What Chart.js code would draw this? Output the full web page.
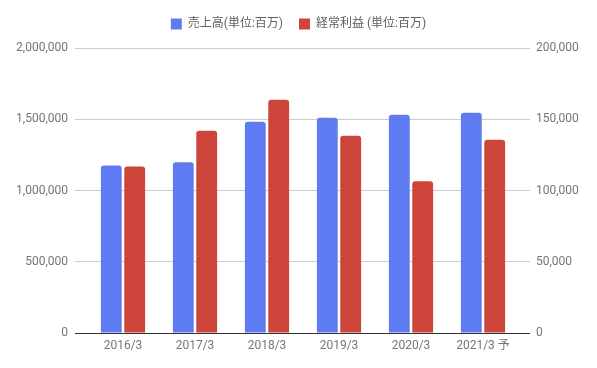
<!doctype html>
<html>
  <head>
    <meta charset="UTF-8">
    <title>売上高・経常利益</title>
    <script src="https://cdn.jsdelivr.net/npm/chart.js@4/dist/chart.umd.min.js"></script>
    <style>
      body {
        margin: 0;
        background: #fff;
      }
      #wrap {
        width: 597px;
        height: 368px;
      }
    </style>
  </head>
  <body>
    <div id="wrap">
      <canvas id="barChart"></canvas>
    </div>
    <script>
      var years = ['2016/3', '2017/3', '2018/3', '2019/3', '2020/3', '2021/3 予']
      var sales = [1175000, 1198000, 1482000, 1510000, 1531000, 1545000]
      var ordinaryProfit = [116800, 142000, 163600, 138500, 106500, 135700]
      var salesLabel = '売上高(単位:百万)'
      var profitLabel = '経常利益 (単位:百万)'

      var fontFamily = 'Roboto, "Noto Sans CJK JP", sans-serif'
      Chart.defaults.font.family = fontFamily
      Chart.defaults.font.size = 12
      Chart.defaults.color = '#757575'

      function gridColor(ctx) {
        if (ctx.tick && ctx.tick.value === 0) {
          return '#333333'
        }
        return '#cccccc'
      }

      function fmt(v) {
        return v.toLocaleString('en-US')
      }

      // push the plot down a little under the legend
      var legendGap = {
        id: 'legendGap',
        beforeInit: function(chart) {
          var origFit = chart.legend.fit
          chart.legend.fit = function() {
            origFit.bind(chart.legend)()
            this.height += 8
          }
        }
      }

      var ctx = document.getElementById('barChart').getContext('2d')
      var myBarChart = new Chart(ctx, {
        type: 'bar',
        data: {
          labels: years,
          datasets: [
            {
              label: salesLabel,
              data: sales,
              backgroundColor: '#5f7bf1',
              borderRadius: {topLeft: 3, topRight: 3},
              borderSkipped: 'start',
              yAxisID: 'y'
            },
            {
              label: profitLabel,
              data: ordinaryProfit,
              backgroundColor: '#cd443a',
              borderRadius: {topLeft: 3, topRight: 3},
              borderSkipped: 'start',
              yAxisID: 'y1'
            }
          ]
        },
        options: {
          responsive: true,
          maintainAspectRatio: false,
          animation: false,
          categoryPercentage: 0.65,
          barPercentage: 0.89,
          layout: {
            padding: {top: 2, left: 0, right: 0, bottom: 0}
          },
          plugins: {
            legend: {
              position: 'top',
              labels: {
                boxWidth: 11,
                boxHeight: 11,
                padding: 16,
                color: '#5f5f5f',
                font: {size: 12, family: fontFamily}
              }
            },
            tooltip: {enabled: false}
          },
          scales: {
            x: {
              grid: {display: false, drawTicks: false},
              border: {display: false},
              ticks: {padding: 6, color: '#757575'},
              afterFit: function(scale) { scale.height = 35 }
            },
            y: {
              position: 'left',
              min: 0,
              max: 2000000,
              border: {display: false},
              grid: {color: gridColor, tickLength: 12, lineWidth: 1},
              ticks: {stepSize: 500000, padding: 7, callback: fmt},
              afterFit: function(scale) { scale.width = 87 }
            },
            y1: {
              position: 'right',
              min: 0,
              max: 200000,
              border: {display: false},
              grid: {drawOnChartArea: false, color: gridColor, tickLength: 11},
              ticks: {stepSize: 50000, padding: 6, callback: fmt},
              afterFit: function(scale) { scale.width = 78 }
            }
          }
        },
        plugins: [legendGap]
      })
    </script>
  </body>
</html>
